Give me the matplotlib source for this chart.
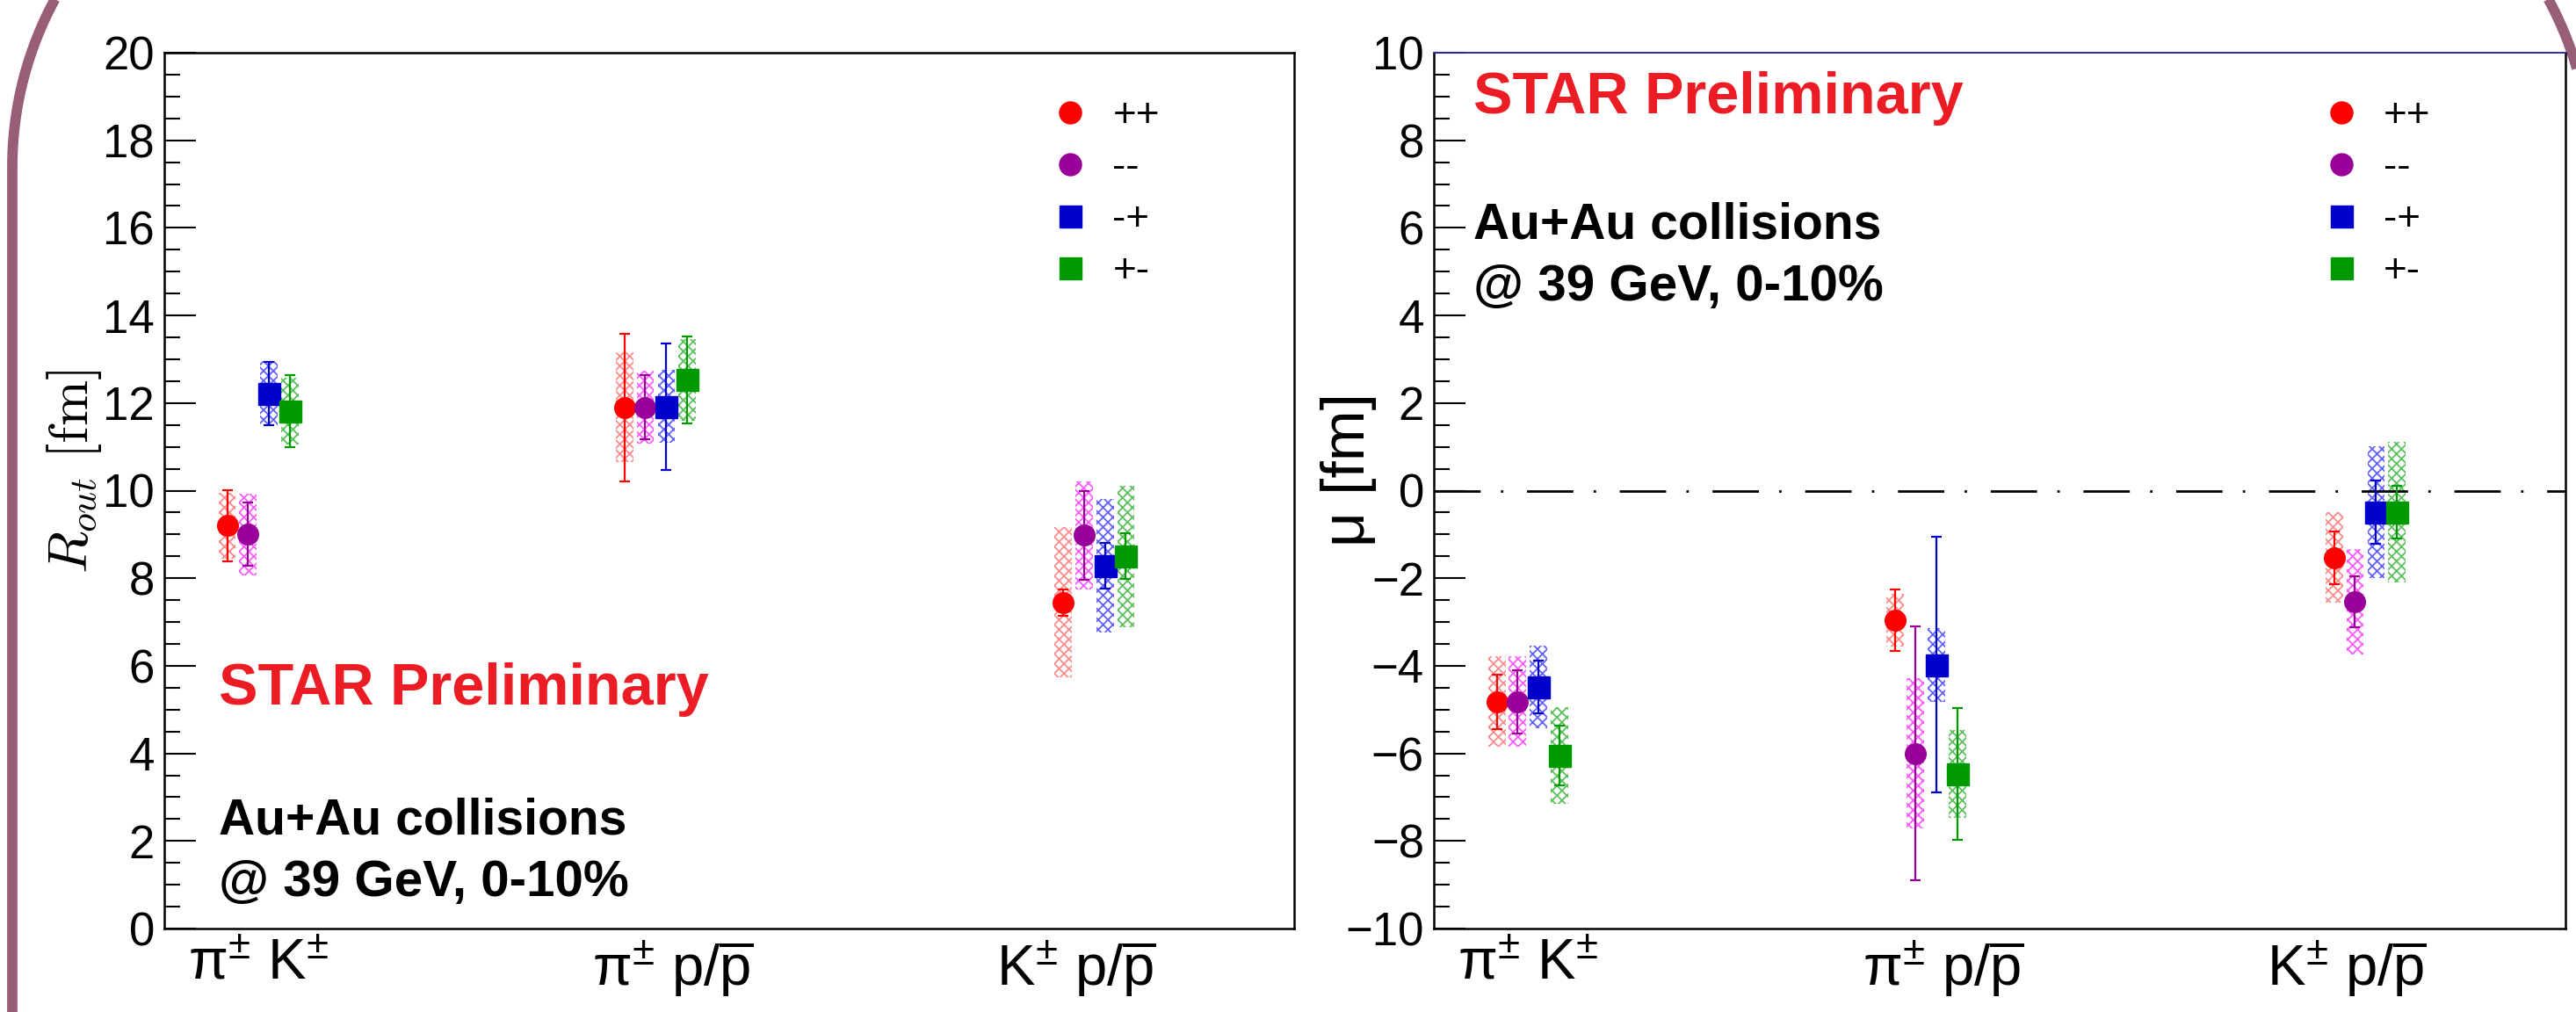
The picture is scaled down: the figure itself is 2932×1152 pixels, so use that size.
import numpy as np
import matplotlib
matplotlib.use("Agg")
import matplotlib.pyplot as plt
from matplotlib.lines import Line2D

plt.rcParams['font.family'] = ['Liberation Sans', 'DejaVu Sans']
plt.rcParams['mathtext.fontset'] = 'custom'
plt.rcParams['mathtext.rm'] = 'Liberation Sans'
plt.rcParams['mathtext.it'] = 'Liberation Sans:italic'
plt.rcParams['mathtext.bf'] = 'Liberation Sans:bold'
plt.rcParams['hatch.linewidth'] = 1.3

# ------------------- DATA -------------------
categories = [r'π$^{\pm}$ K$^{\pm}$',
              r'π$^{\pm}$ p/$\overline{\mathrm{p}}$',
              r'K$^{\pm}$ p/$\overline{\mathrm{p}}$']
series = ['++', '--', '-+', '+-']

# rows: series (++, --, -+, +-), columns: categories
rout_val = [[9.20, 11.90, 7.45],
            [9.00, 11.90, 8.98],
            [12.22, 11.92, 8.28],
            [11.82, 12.53, 8.50]]
rout_stat = [[0.82, 1.69, 0.30],
             [0.72, 0.73, 1.02],
             [0.72, 1.44, 0.52],
             [0.82, 1.00, 0.52]]
rout_sys = [[0.75, 1.25, 1.71],
            [0.93, 0.83, 1.24],
            [0.73, 0.83, 1.52],
            [0.76, 0.94, 1.62]]

mu_val = [[-4.82, -2.96, -1.53],
          [-4.82, -6.00, -2.54],
          [-4.48, -3.98, -0.49],
          [-6.05, -6.47, -0.49]]
mu_stat = [[0.62, 0.70, 0.60],
           [0.72, 2.90, 0.58],
           [0.60, 2.92, 0.72],
           [0.69, 1.50, 0.60]]
mu_sys = [[1.03, 0.60, 1.03],
          [1.03, 1.72, 1.20],
          [0.94, 0.84, 1.51],
          [1.11, 1.00, 1.61]]

# ------------------- STYLE -------------------
group_x = np.array([0.25, 1.305, 2.47])
offsets = [-0.083, -0.028, 0.028, 0.083]
label_x = [0.25, 1.35, 2.42]
markers = ['o', 'o', 's', 's']
msizes = [17, 17, 18, 18]
colors = ['#ff0000', '#990099', '#0000cc', '#009900']
sys_colors = ['#ff8c8c', '#ff5cff', '#6262ff', '#5cc05c']

W, H = 2932, 1152
fig = plt.figure(figsize=(W / 100, H / 100), dpi=100)
fig.patch.set_facecolor('white')

# slide frame (rounded corners) behind the panels, in pixel units
bg = fig.add_axes([0, 0, 1, 1], zorder=-5)
bg.set_xlim(0, W)
bg.set_ylim(H, 0)
bg.axis('off')
R, cy = 400, 190
t = np.linspace(np.pi, 1.5 * np.pi, 100)
bg.plot(np.r_[14, 14 + R + R * np.cos(t)], np.r_[H + 20, cy + R * np.sin(t)],
        color='#985e77', lw=8.5, solid_capstyle='butt')
t = np.linspace(1.5 * np.pi, 2 * np.pi, 100)
bg.plot(np.r_[2549 + R * np.cos(t), 2949], np.r_[cy + R * np.sin(t), H + 20],
        color='#985e77', lw=8.5, solid_capstyle='butt')

ax1 = fig.add_axes([187 / W, 1 - 1057 / H, 1286 / W, 997 / H])
ax2 = fig.add_axes([1632 / W, 1 - 1057 / H, 1288 / W, 997 / H])


def draw_panel(ax, vals, stat, sys):
    for i in range(len(series)):
        x = group_x + offsets[i]
        v = np.array(vals[i])
        s = np.array(sys[i])
        ax.bar(x, 2 * s, bottom=v - s, width=0.046, color='none',
               edgecolor=sys_colors[i], hatch='xxx', lw=0, zorder=1)
        ax.errorbar(x, v, yerr=stat[i], fmt=markers[i], ms=msizes[i],
                    color=colors[i], mec=colors[i], elinewidth=1.6,
                    capsize=4.3, capthick=1.6, zorder=3)
    ax.set_xlim(0, 3)
    ax.set_xticks(label_x)
    ax.set_xticklabels(categories, fontsize=47)
    ax.tick_params(axis='x', length=0, pad=8)
    ax.tick_params(axis='y', direction='in', which='major', length=26,
                   width=1.5, labelsize=38, pad=8, right=False)
    ax.tick_params(axis='y', direction='in', which='minor', length=13,
                   width=1.5, right=False)
    for sp in ax.spines.values():
        sp.set_linewidth(1.8)
    handles = [Line2D([], [], ls='none', marker=markers[i], ms=18,
                      color=colors[i]) for i in range(len(series))]
    ax.legend(handles, series, loc='upper left', bbox_to_anchor=(0.784, 0.950),
              frameon=False, fontsize=33, handlelength=1.0,
              handletextpad=0.55, labelspacing=0.33, borderpad=0,
              borderaxespad=0)


draw_panel(ax1, rout_val, rout_stat, rout_sys)
ax1.set_ylim(0, 20)
ax1.set_yticks(np.arange(0, 21, 2))
ax1.set_yticks(np.arange(0, 20.1, 0.5), minor=True)
ax1.text(-0.080, 0.522, r'$R_{out}\ [\mathrm{fm}]$', transform=ax1.transAxes,
         rotation=90, ha='center', va='center', fontsize=45,
         math_fontfamily='cm')
ax1.text(0.048, 0.273, 'STAR Preliminary', transform=ax1.transAxes,
         color='#ec1c24', fontsize=48, fontweight='bold', va='center')
ax1.text(0.048, 0.123, 'Au+Au collisions', transform=ax1.transAxes,
         color='black', fontsize=41, fontweight='bold', va='center')
ax1.text(0.048, 0.052, '@ 39 GeV, 0-10%', transform=ax1.transAxes,
         color='black', fontsize=42, fontweight='bold', va='center')

draw_panel(ax2, mu_val, mu_stat, mu_sys)
ax2.set_ylim(-10, 10)
ax2.set_yticks(np.arange(-10, 11, 2))
ax2.set_yticks(np.arange(-10, 10.1, 0.5), minor=True)
ax2.axhline(0, color='black', lw=2, dashes=(19, 8.3, 1, 9.7), zorder=2)
ax2.spines['top'].set_color('#2b2ba0')
ax2.spines['top'].set_linewidth(1.4)
ax2.text(-0.075, 0.524, 'μ [fm]', transform=ax2.transAxes,
         rotation=90, ha='center', va='center', fontsize=50)
ax2.text(0.035, 0.948, 'STAR Preliminary', transform=ax2.transAxes,
         color='#ec1c24', fontsize=48, fontweight='bold', va='center')
ax2.text(0.035, 0.803, 'Au+Au collisions', transform=ax2.transAxes,
         color='black', fontsize=41, fontweight='bold', va='center')
ax2.text(0.035, 0.732, '@ 39 GeV, 0-10%', transform=ax2.transAxes,
         color='black', fontsize=42, fontweight='bold', va='center')

fig.savefig('out.png', dpi=100)
